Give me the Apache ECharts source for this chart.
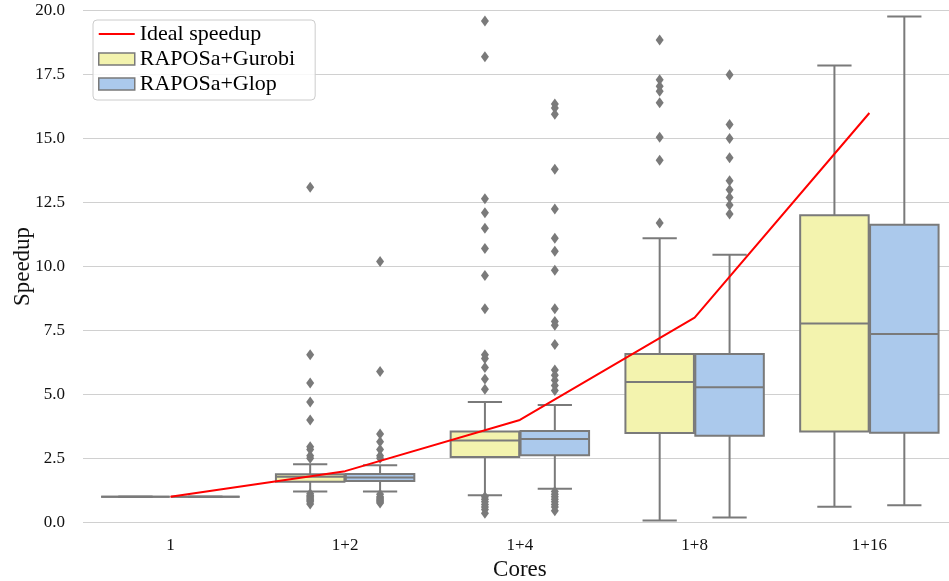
<!DOCTYPE html>
<html>
<head>
<meta charset="utf-8">
<script src="https://cdn.jsdelivr.net/npm/echarts@6/dist/echarts.min.js"></script>
<style>
  html, body { margin: 0; padding: 0; background: #ffffff; }
  #chart { width: 949px; height: 581px; }
</style>
</head>
<body>
<div id="chart"></div>
<script>
// Core configurations on the x axis
const categories = ['1', '1+2', '1+4', '1+8', '1+16'];
// Ideal linear speedup for each configuration
const idealSpeedup = [1, 2, 4, 8, 16];
// Box statistics per configuration: [lower whisker, Q1, median, Q3, upper whisker]
const gurobiBoxes = [
  [1, 1, 1, 1, 1],
  [1.20, 1.59, 1.78, 1.88, 2.27],
  [1.06, 2.55, 3.20, 3.55, 4.70],
  [0.07, 3.49, 5.48, 6.58, 11.10],
  [0.61, 3.55, 7.77, 12.00, 17.86]
];
const glopBoxes = [
  [1, 1, 1, 1, 1],
  [1.20, 1.61, 1.75, 1.89, 2.23],
  [1.31, 2.62, 3.26, 3.57, 4.59],
  [0.19, 3.38, 5.28, 6.58, 10.46],
  [0.67, 3.50, 7.36, 11.63, 19.77]
];
// Outlying runs per configuration
const gurobiFliers = [
  [],
  [13.1, 6.55, 5.45, 4.7, 4.0, 2.95, 2.85, 2.6, 2.5, 1.12, 1.05, 1.0, 0.95, 0.9, 0.85, 0.8, 0.72],
  [19.6, 18.2, 12.65, 12.1, 11.5, 10.7, 9.65, 8.35, 6.55, 6.4, 6.05, 5.6, 5.2, 1.0, 0.9, 0.8, 0.7, 0.6, 0.5, 0.35],
  [18.85, 17.3, 17.05, 16.85, 16.4, 15.05, 14.15, 11.7],
  []
];
const glopFliers = [
  [],
  [10.2, 5.9, 3.45, 3.15, 2.85, 2.6, 2.5, 1.1, 1.0, 0.95, 0.9, 0.85, 0.8, 0.75],
  [16.35, 16.2, 15.95, 13.8, 12.25, 11.1, 10.6, 9.85, 8.35, 7.85, 7.7, 6.95, 5.95, 5.75, 5.55, 5.35, 5.15, 1.2, 1.1, 1.0, 0.9, 0.8, 0.7, 0.6, 0.45],
  [17.5, 15.55, 15.0, 14.25, 13.35, 13.0, 12.7, 12.4, 12.05],
  []
];
// Y axis tick values
const yTicks = [0, 2.5, 5, 7.5, 10, 12.5, 15, 17.5, 20];

const FONT = 'Liberation Serif';
const EDGE = '#7a7a7a';
const GUROBI_FILL = '#f3f3ae';
const GLOP_FILL = '#abc9ec';
const DODGE = 0.2;          // hue offset in category units
const BOX_HALF = 0.196;     // half box width in category units
const CAP_HALF = 0.098;     // half whisker-cap width

function boxData(boxes, dodge) {
  return boxes.map((b, i) => [i + dodge].concat(b));
}
function flierData(fliers, dodge) {
  const out = [];
  fliers.forEach((vals, i) => vals.forEach(v => out.push([i + dodge, v])));
  return out;
}

function renderBox(params, api) {
  const x = api.value(0);
  const mn = api.value(1), q1 = api.value(2), md = api.value(3), q3 = api.value(4), mx = api.value(5);
  const fill = api.visual('color');
  const p = (xx, yy) => api.coord([xx, yy]);
  const lineStyle = { stroke: EDGE, lineWidth: 2 };
  const seg = (a, b) => ({ type: 'line', shape: { x1: a[0], y1: a[1], x2: b[0], y2: b[1] }, style: lineStyle });
  const tl = p(x - BOX_HALF, q3), br = p(x + BOX_HALF, q1);
  return {
    type: 'group',
    children: [
      seg(p(x, q3), p(x, mx)),
      seg(p(x, q1), p(x, mn)),
      seg(p(x - CAP_HALF, mx), p(x + CAP_HALF, mx)),
      seg(p(x - CAP_HALF, mn), p(x + CAP_HALF, mn)),
      {
        type: 'rect',
        shape: { x: tl[0], y: tl[1], width: br[0] - tl[0], height: br[1] - tl[1] },
        style: { fill: fill, stroke: EDGE, lineWidth: 2 }
      },
      seg(p(x - BOX_HALF, md), p(x + BOX_HALF, md))
    ]
  };
}

const chart = echarts.init(document.getElementById('chart'), null, { renderer: 'canvas' });

const option = {
  animation: false,
  backgroundColor: '#ffffff',
  grid: { left: 83, top: 10.7, width: 873.75, height: 511.6, outerBoundsMode: 'none', containLabel: false },
  legend: {
    orient: 'vertical',
    left: 93,
    top: 20,
    padding: [3, 20, 5, 5],
    itemWidth: 36,
    itemHeight: 12,
    itemGap: 3,
    backgroundColor: 'rgba(255,255,255,0.85)',
    borderColor: '#cccccc',
    borderWidth: 1,
    borderRadius: 4,
    textStyle: { fontFamily: FONT, fontSize: 22, lineHeight: 22, color: '#000000' },
    data: [
      { name: 'Ideal speedup', icon: 'path://M0,0 L36,0 L36,2 L0,2 Z', itemStyle: { color: '#ff0000' } },
      { name: 'RAPOSa+Gurobi', icon: 'rect', itemStyle: { color: GUROBI_FILL, borderColor: EDGE, borderWidth: 1.5 } },
      { name: 'RAPOSa+Glop', icon: 'rect', itemStyle: { color: GLOP_FILL, borderColor: EDGE, borderWidth: 1.5 } }
    ]
  },
  xAxis: [
    {
      type: 'category',
      data: categories,
      boundaryGap: true,
      axisLine: { show: false },
      axisTick: { show: false },
      axisLabel: { margin: 15, fontFamily: FONT, fontSize: 17, color: '#111111' },
      splitLine: { show: false },
      name: 'Cores',
      nameLocation: 'middle',
      nameGap: 36,
      nameMoveOverlap: false,
      nameTextStyle: { fontFamily: FONT, fontSize: 23, color: '#111111' }
    },
    {
      type: 'value',
      min: -0.5,
      max: categories.length - 0.5,
      show: false
    }
  ],
  yAxis: {
    type: 'value',
    min: yTicks[0],
    max: yTicks[yTicks.length - 1],
    interval: yTicks[1] - yTicks[0],
    axisLine: { show: false },
    axisTick: { show: false },
    axisLabel: {
      margin: 18,
      fontFamily: FONT,
      fontSize: 17,
      color: '#111111',
      formatter: v => v.toFixed(1)
    },
    splitLine: { show: true, lineStyle: { color: '#d0d0d0', width: 1.2 } },
    name: 'Speedup',
    nameLocation: 'middle',
    nameGap: 49,
    nameMoveOverlap: false,
    nameTextStyle: { fontFamily: FONT, fontSize: 23, color: '#111111' }
  },
  series: [
    {
      name: 'RAPOSa+Gurobi',
      type: 'custom',
      xAxisIndex: 1,
      renderItem: renderBox,
      itemStyle: { color: GUROBI_FILL },
      encode: { x: 0, y: [1, 2, 3, 4, 5] },
      data: boxData(gurobiBoxes, -DODGE),
      z: 2
    },
    {
      name: 'RAPOSa+Glop',
      type: 'custom',
      xAxisIndex: 1,
      renderItem: renderBox,
      itemStyle: { color: GLOP_FILL },
      encode: { x: 0, y: [1, 2, 3, 4, 5] },
      data: boxData(glopBoxes, DODGE),
      z: 2
    },
    {
      name: 'Gurobi outliers',
      type: 'scatter',
      xAxisIndex: 1,
      symbol: 'diamond',
      symbolSize: [8, 11],
      itemStyle: { color: EDGE, opacity: 1 },
      data: flierData(gurobiFliers, -DODGE),
      z: 3
    },
    {
      name: 'Glop outliers',
      type: 'scatter',
      xAxisIndex: 1,
      symbol: 'diamond',
      symbolSize: [8, 11],
      itemStyle: { color: EDGE, opacity: 1 },
      data: flierData(glopFliers, DODGE),
      z: 3
    },
    {
      name: 'Ideal speedup',
      type: 'line',
      xAxisIndex: 1,
      symbol: 'none',
      lineStyle: { color: '#ff0000', width: 2 },
      itemStyle: { color: '#ff0000' },
      data: idealSpeedup.map((v, i) => [i, v]),
      z: 5
    }
  ]
};

chart.setOption(option);
</script>
</body>
</html>
